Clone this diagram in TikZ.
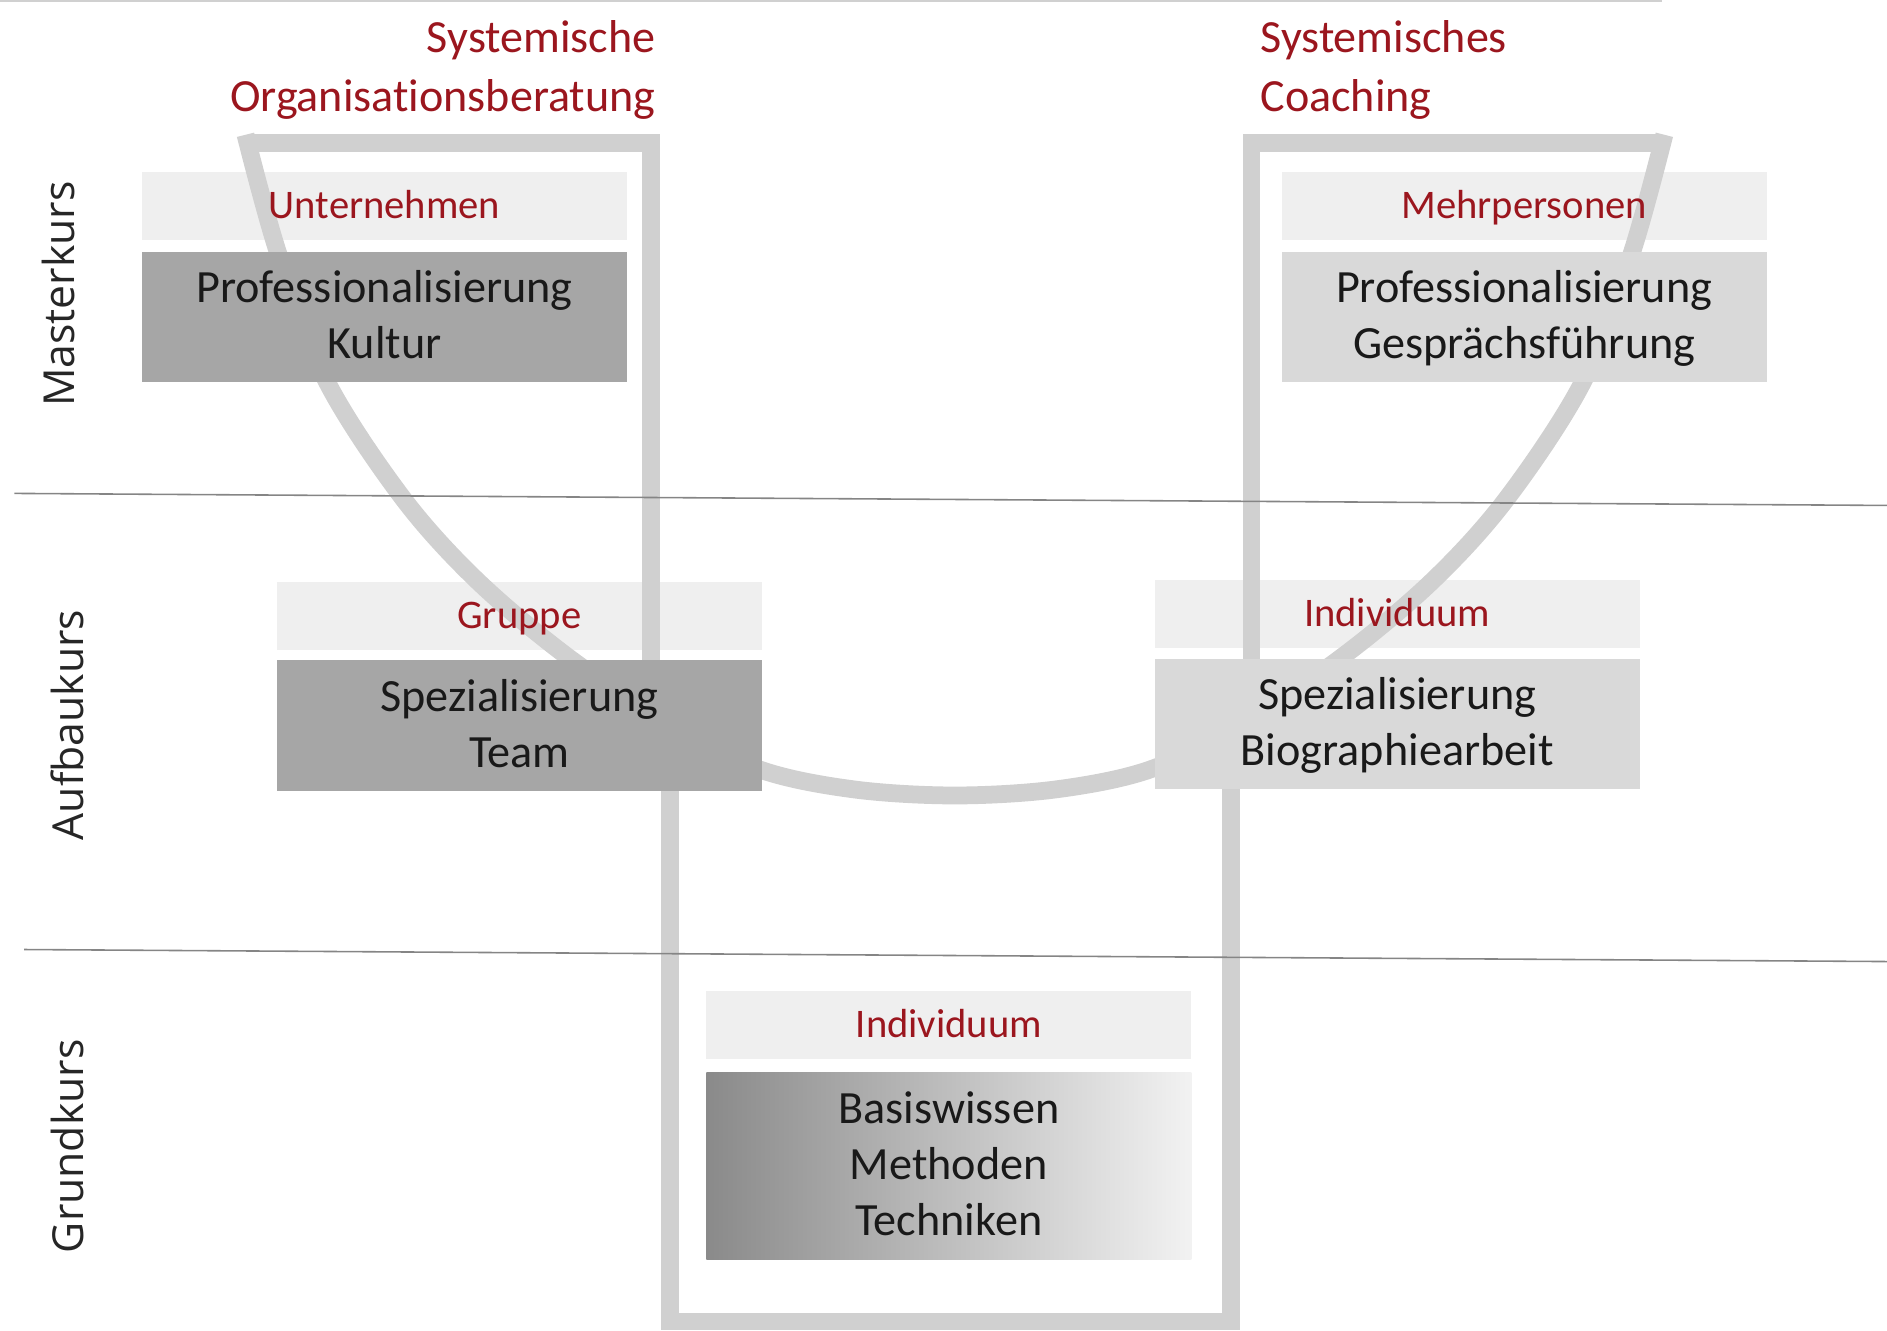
\documentclass[tikz,border=0pt]{standalone}
\usepackage{fontspec}
\setmainfont{Carlito}[Ligatures=NoCommon]
\newfontfamily\sidefont{Open Sans}
\definecolor{titlered}{RGB}{155,22,30}
\definecolor{labelgray}{HTML}{EFEFEF}
\definecolor{darkbox}{HTML}{A6A6A6}
\definecolor{lightbox}{HTML}{D9D9D9}
\definecolor{bandgray}{HTML}{D0D0D0}
\definecolor{sepgray}{HTML}{858585}
\definecolor{gradleft}{HTML}{8A8A8A}
\definecolor{gradright}{HTML}{F2F2F2}
\begin{document}
\begin{tikzpicture}[x=0.02cm,y=-0.02cm,
  lbl/.style={fill=labelgray, draw=none, inner sep=0pt, minimum width=8.06cm, minimum height=1.13cm},
  boxbase/.style={draw=none, inner sep=0pt, minimum width=8.06cm, minimum height=2.17cm},
  darkb/.style={boxbase, fill=darkbox},
  lightb/.style={boxbase, fill=lightbox},
  gradb/.style={boxbase, minimum height=3.12cm, left color=gradleft, right color=gradright},
  band/.style={draw=bandgray, line width=8.4pt, line join=miter},
  sepline/.style={draw=sepgray, line width=0.75pt},
  title/.style={font=\fontsize{21.8pt}{26pt}\selectfont, text=titlered, inner sep=0pt},
  lbltext/.style={font=\fontsize{19.2pt}{23pt}\selectfont, text=titlered, inner sep=0pt, anchor=base},
  body/.style={font=\fontsize{21.85pt}{26pt}\selectfont, text=black!90, inner sep=0pt, anchor=base},
  side/.style={font=\sidefont\fontsize{20.2pt}{24pt}\selectfont, text=black!85, inner sep=0pt, rotate=90, anchor=base}
]
\useasboundingbox (0,0) rectangle (1568,1105.2);

% faint top edge
\draw[draw=bandgray, line width=0.9pt] (0,1) -- (1381,1);

% label boxes
\node[lbl] (lU) at (319.5,171) {};
\node[lbl] (lM) at (1266.5,171) {};
\node[lbl] (lG) at (431.5,511.5) {};
\node[lbl] (lI) at (1161,510.5) {};
\node[lbl] (lB) at (788.5,851.5) {};

% bands
\draw[band] plot[smooth, tension=0.55] coordinates {
  (204,112) (231,210) (271,316) (334,413) (396,482) (472,546) (560,605)
  (633,640) (710,656) (793.5,661) (877,656) (954,640)
  (1027,605) (1115,546) (1191,482) (1253,413) (1316,316) (1356,210) (1383,112)};
\draw[band] (206,119) -- (541,119) -- (541,600);
\draw[band] (1040,600) -- (1040,119) -- (1381,119);
\draw[band] (557,600) -- (557,1098) -- (1023,1098) -- (1023,600);

% content boxes
\node[darkb] (cK) at (319.5,263.5) {};
\node[lightb] (cGF) at (1266.5,263.5) {};
\node[darkb] (cT) at (431.5,603) {};
\node[lightb] (cBA) at (1161,601.5) {};
\node[gradb] (cBW) at (788.5,969) {};

% separators
\draw[sepline] (12,410) -- (1568,420);
\draw[sepline] (20,789) -- (1568,799);

% titles
\node[title, anchor=base east] (t1a) at (545,44) {Systemische};
\node[title, anchor=base east] (t1b) at (545,93) {Organisationsberatung};
\node[title, anchor=base west] (t2a) at (1047,44) {Systemisches};
\node[title, anchor=base west] (t2b) at (1047,93) {Coaching};

% label texts
\node[lbltext] (xU) at (319.5,181.5) {Unternehmen};
\node[lbltext] (xM) at (1266.5,181.5) {Mehrpersonen};
\node[lbltext] (xG) at (431.5,522) {Gruppe};
\node[lbltext] (xI) at (1161,521) {Individuum};
\node[lbltext] (xB) at (788.5,862) {Individuum};

% body texts
\node[body] (k1) at (319.5,251.5) {Professionalisierung};
\node[body] (k2) at (319.5,298) {Kultur};
\node[body] (g1) at (1266.5,251.5) {Professionalisierung};
\node[body] (g2) at (1266.5,298) {Gesprächsführung};
\node[body] (s1) at (431.5,591) {Spezialisierung};
\node[body] (s2) at (431.5,637.5) {Team};
\node[body] (b1) at (1161,589.5) {Spezialisierung};
\node[body] (b2) at (1161,636) {Biographiearbeit};
\node[body] (w1) at (788.5,933.5) {Basiswissen};
\node[body] (w2) at (788.5,980) {Methoden};
\node[body] (w3) at (788.5,1026.5) {Techniken};

% side labels
\node[side] (sm) at (62,244.3) {Masterkurs};
\node[side] (sa) at (69,602.5) {Aufbaukurs};
\node[side] (sg) at (69,952.5) {Grundkurs};
\end{tikzpicture}
\end{document}
